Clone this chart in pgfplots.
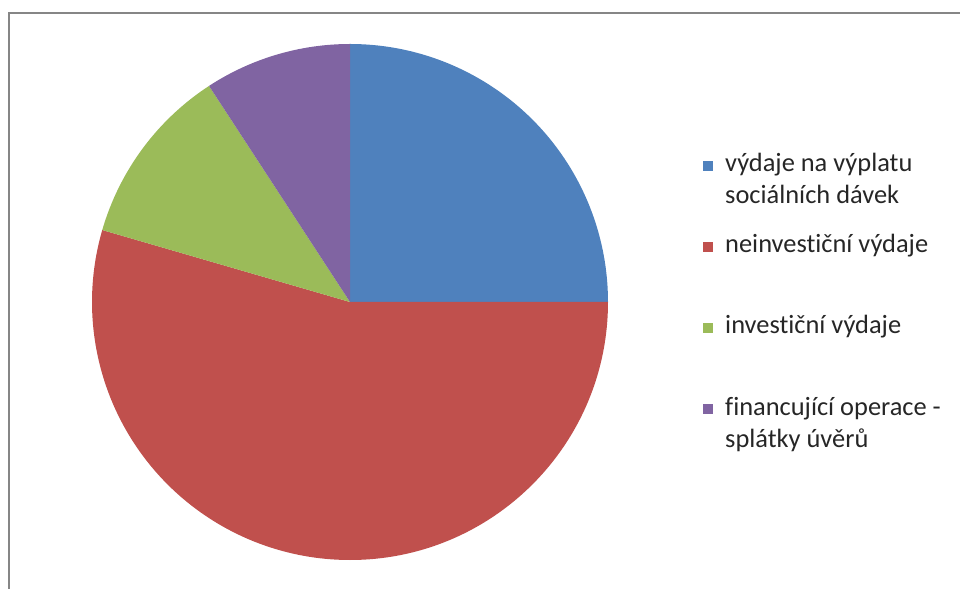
\documentclass[border=0pt]{standalone}
\usepackage{fontspec}
\setmainfont[Ligatures=NoCommon]{Carlito}
\usepackage{pgfplots}
\usepackage{pgfplotstable}
\pgfplotsset{compat=1.18}

\definecolor{pieblue}{HTML}{4F81BD}
\definecolor{piered}{HTML}{C0504D}
\definecolor{piegreen}{HTML}{9BBB59}
\definecolor{piepurple}{HTML}{8064A2}
\definecolor{frame}{HTML}{868686}

% share of each item in percent, clockwise from 12 o'clock
\pgfplotstableread{
item value
1 25.0
2 54.5
3 11.3
4 9.2
}\piedata

\def\ang{90}
\newcommand\pieslice[2]{%
  \pgfplotstablegetelem{#1}{value}\of\piedata
  \pgfmathsetmacro\endang{\ang-3.6*\pgfplotsretval}%
  \edef\cmd{\noexpand\fill[#2] (axis cs:350,286) -- ++(\ang:258)
    arc[start angle=\ang, end angle=\endang, radius=258] -- cycle;}%
  \cmd
  \xdef\ang{\endang}%
}

\begin{document}
\begin{tikzpicture}
\begin{axis}[
    scale only axis,
    width=960bp, height=588bp,
    xmin=0, xmax=960,
    ymin=0, ymax=588,
    hide axis,
    clip=false,
]
% chart frame
\draw[frame, line width=2bp] (axis cs:9,-20) -- (axis cs:9,574.5) -- (axis cs:990,574.5);

\pieslice{0}{pieblue}
\pieslice{1}{piered}
\pieslice{2}{piegreen}
\pieslice{3}{piepurple}

% legend
\begin{scope}[every node/.style={anchor=base west, inner sep=0pt, text=black!85, font=\fontsize{26.5}{32}\selectfont}]
\fill[pieblue]   (axis cs:703,417) rectangle (axis cs:713,427);
\node at (axis cs:725,416.5) {výdaje na výplatu};
\node at (axis cs:725,384) {sociálních dávek};
\fill[piered]    (axis cs:703,336) rectangle (axis cs:713,346);
\node at (axis cs:725,335) {neinvestiční výdaje};
\fill[piegreen]  (axis cs:703,255) rectangle (axis cs:713,265);
\node at (axis cs:725,254) {investiční výdaje};
\fill[piepurple] (axis cs:703,174) rectangle (axis cs:713,184);
\node at (axis cs:725,173) {financující operace -};
\node at (axis cs:725,141) {splátky úvěrů};
\end{scope}
\end{axis}
\pgfresetboundingbox
\path (current axis.south west) rectangle (current axis.north east);
\end{tikzpicture}
\end{document}
